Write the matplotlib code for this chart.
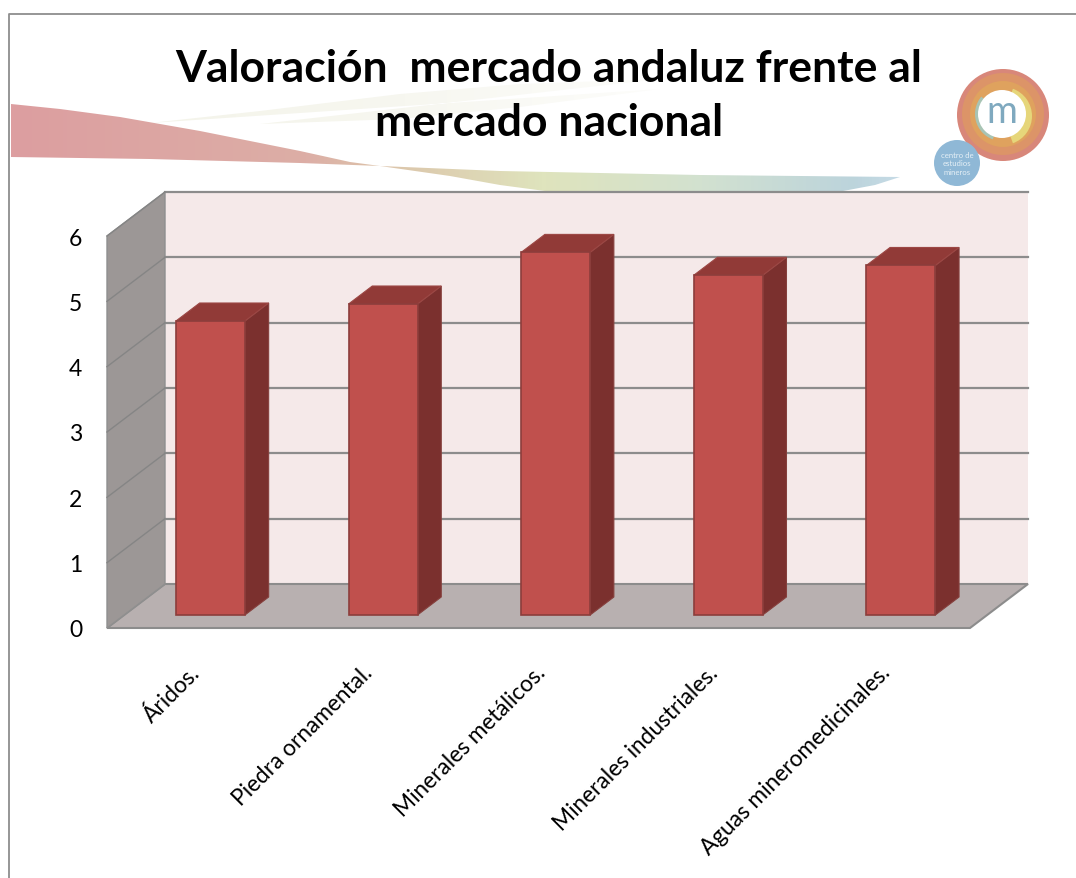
import numpy as np
import matplotlib
matplotlib.use('Agg')
import matplotlib.pyplot as plt
from matplotlib.colors import LinearSegmentedColormap
from matplotlib.patches import Circle, Polygon, Wedge
from matplotlib.transforms import ScaledTranslation

categories = ['Áridos.', 'Piedra ornamental.', 'Minerales metálicos.',
              'Minerales industriales.', 'Aguas mineromedicinales.']
values = [4.5, 4.76, 5.55, 5.2, 5.35]
y_ticks = [0, 1, 2, 3, 4, 5, 6]
title = 'Valoración  mercado andaluz frente al\nmercado nacional'

W, H = 1076, 879
plt.rcParams['font.family'] = ['Lato', 'DejaVu Sans']

fig = plt.figure(figsize=(W / 100, H / 100), dpi=100, facecolor='white')

# background layer in pixels, slide border + ribbon + logo
bg = fig.add_axes([0, 0, 1, 1])
bg.set_xlim(0, W)
bg.set_ylim(H, 0)
bg.axis('off')

bg.plot([9, 9, W], [H, 15, 15], color='#8e8e8e', lw=1.3)


def ribbon(top, bottom, colors, x0, x1):
    pts = top + bottom[::-1]
    cmap = LinearSegmentedColormap.from_list('rib', colors)
    ys = [p[1] for p in pts]
    im = bg.imshow(np.linspace(0, 1, 256)[None, :], cmap=cmap, aspect='auto',
                   extent=[x0, x1, max(ys), min(ys)], zorder=1)
    poly = Polygon(pts, closed=True, fc='none', ec='none', transform=bg.transData)
    bg.add_patch(poly)
    im.set_clip_path(poly)


ribbon([(150, 124), (260, 112), (400, 95), (520, 85), (660, 80)],
       [(660, 90), (520, 108), (400, 120), (260, 125)],
       ['#f4f4ea', '#f7f7f0', '#fdfdfb'], 150, 660)
ribbon([(11, 105), (60, 110), (120, 118), (200, 132), (300, 152), (350, 163), (380, 167),
        (500, 172), (700, 176), (900, 178)],
       [(11, 158), (150, 160), (300, 164), (380, 167), (450, 177), (500, 186), (545, 192),
        (843, 192), (875, 186), (900, 178)],
       [(0, '#dd9ea0'), (0.33, '#dcaea6'), (0.42, '#dcc4aa'), (0.6, '#dfe4bd'),
        (0.78, '#d2e1d0'), (0.95, '#bcd4dc'), (1, '#c6dbe6')],
       11, 900)
bg.set_xlim(0, W)
bg.set_ylim(H, 0)

bg.text(549, 96, title, ha='center', va='center', fontsize=32,
        fontweight='bold', color='black', linespacing=1.42, zorder=5)

bg.add_patch(Circle((1003, 116), 46, fc='#d8877a', ec='none', zorder=3))
bg.add_patch(Circle((1003, 115), 41, fc='#dc9468', ec='none', zorder=3))
bg.add_patch(Circle((1003, 115), 33, fc='#dfa25e', ec='none', zorder=3))
bg.add_patch(Wedge((1003, 117), 29, 290, 70, fc='#e6d67a', ec='none', zorder=3))
bg.add_patch(Wedge((1002, 115), 27, 110, 220, fc='#a8c4b4', ec='none', zorder=3))
bg.add_patch(Circle((1002, 115), 24, fc='white', ec='none', zorder=3))
bg.text(1002, 112, 'm', color='#7fa9bf', fontsize=27, ha='center', va='center', zorder=4)
bg.add_patch(Circle((957, 164), 23, fc='#8fb8d6', ec='none', zorder=4))
bg.text(957, 164, 'centro de\nestudios\nmineros', color='#e6f0f6', fontsize=5.6,
        ha='center', va='center', zorder=5)

# chart, front plane of the box is the axes rectangle
left, right, top, bottom = 107, 970, 237, 629
ax = fig.add_axes([left / W, 1 - bottom / H, (right - left) / W, (bottom - top) / H])
ax.patch.set_alpha(0)
ax.set_xlim(0, len(categories))
ax.set_ylim(0, 6)
for s in ax.spines.values():
    s.set_visible(False)

# depth of the box in data units
dx = 58 / ((right - left) / len(categories))
dy = 44 / ((bottom - top) / 6)
n = len(categories)


def pt(x, y, d):
    return (x + d * dx, y + d * dy)


def face(points, **kw):
    ax.add_patch(Polygon(points, closed=True, clip_on=False, **kw))


face([pt(0, 0, 1), pt(n, 0, 1), pt(n, 6, 1), pt(0, 6, 1)], fc='#f5e9e9', ec='none', zorder=1)
face([pt(0, 0, 0), pt(n, 0, 0), pt(n, 0, 1), pt(0, 0, 1)], fc='#b8b0b0', ec='#8c8c8c', lw=1.5, zorder=2)
face([pt(0, 0, 0), pt(0, 0, 1), pt(0, 6, 1), pt(0, 6, 0)], fc='#9c9796', ec='#8f8f8f', lw=1, zorder=2)

for t in y_ticks:
    if t == 0:
        continue
    xs, ys = zip(pt(0, t, 0), pt(0, t, 1), pt(n, t, 1))
    ax.plot(xs[1:], ys[1:], color='#8c8c8c', lw=1.6, clip_on=False, zorder=3)
    ax.plot(xs[:2], ys[:2], color='#858585', lw=1, clip_on=False, zorder=3)

bar_w = 69 / ((right - left) / n)
d0, d1 = 13 / 44, 31 / 44
for i, v in enumerate(values):
    x0 = i + 0.5 - bar_w / 2
    x1 = x0 + bar_w
    face([pt(x1, 0, d0), pt(x1, 0, d1), pt(x1, v, d1), pt(x1, v, d0)],
         fc='#7b302e', ec='#86403d', lw=0.8, zorder=4)
    face([pt(x0, v, d0), pt(x1, v, d0), pt(x1, v, d1), pt(x0, v, d1)],
         fc='#913a37', ec='#9c4744', lw=0.8, zorder=4)
    face([pt(x0, 0, d0), pt(x1, 0, d0), pt(x1, v, d0), pt(x0, v, d0)],
         fc='#c0504d', ec='#8c3d3b', lw=1.2, zorder=5)

ax.set_yticks(y_ticks)
ax.set_yticklabels([str(t) for t in y_ticks])
ax.set_xticks([i + 0.5 for i in range(n)])
ax.set_xticklabels(categories, rotation=45, ha='right', rotation_mode='anchor')
ax.tick_params(axis='y', length=0, pad=18, labelsize=16.5)
ax.tick_params(axis='x', length=0, pad=24, labelsize=16.3)
shift = ScaledTranslation(-4 / 100, 0, fig.dpi_scale_trans)
for lab in ax.get_xticklabels():
    lab.set_transform(lab.get_transform() + shift)

fig.savefig('out.png', dpi=100)
